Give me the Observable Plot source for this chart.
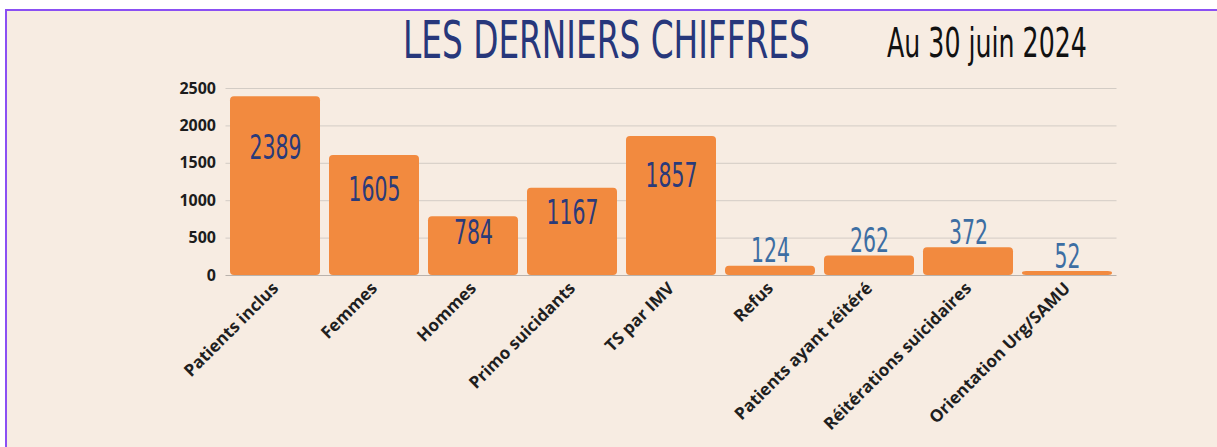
<!DOCTYPE html>
<html>
<head>
<meta charset="utf-8">
<script src="https://cdn.jsdelivr.net/npm/d3@7"></script>
<script src="https://cdn.jsdelivr.net/npm/@observablehq/plot@0.6"></script>
<style>
  html, body { margin: 0; padding: 0; background: #ffffff; width: 1217px; height: 447px; overflow: hidden; }
  #page { position: absolute; left: 5px; top: 9px; right: 0; bottom: 0;
          border-left: 2px solid #8b4ff3; border-top: 2px solid #8b4ff3;
          background: #F7ECE2; overflow: hidden; }
  #hdr { position: absolute; left: 0; top: 0; }
  #chart { position: absolute; left: 0; top: 59px; }
  #chart svg { background: transparent; }
</style>
</head>
<body>
<div id="page">
  <svg id="hdr" width="1210" height="59">
    <text id="t1" x="396" y="47" data-w="407"
          font-family="'DejaVu Sans Condensed','DejaVu Sans',sans-serif"
          font-size="51" fill="#27377b">LES DERNIERS CHIFFRES</text>
    <text id="t2" x="880" y="46" data-w="200"
          font-family="'DejaVu Sans Condensed','DejaVu Sans',sans-serif"
          font-size="40" fill="#111111">Au 30 juin 2024</text>
  </svg>
  <div id="chart"></div>
</div>
<script>
const categories = ["Patients inclus", "Femmes", "Hommes", "Primo suicidants", "TS par IMV",
                    "Refus", "Patients ayant réitéré", "Réitérations suicidaires", "Orientation Urg/SAMU"];
const values = [2389, 1605, 784, 1167, 1857, 124, 262, 372, 52];
const yTicks = [0, 500, 1000, 1500, 2000, 2500];

const data = categories.map((c, i) => ({category: c, value: values[i]}));
const inside = data.filter(d => d.value > 500);
const outside = data.filter(d => d.value <= 500);

const numFont = "'DejaVu Sans Condensed','DejaVu Sans',sans-serif";
const axisFont = "'Open Sans', 'Noto Sans', sans-serif";

const chart = Plot.plot({
  width: 1210,
  height: 377,
  marginTop: 18,
  marginBottom: 172,
  marginLeft: 218.5,
  marginRight: 100.5,
  style: {background: "transparent"},
  x: {domain: categories, paddingInner: 0.09, paddingOuter: 0.045, label: null},
  y: {domain: [0, 2500], label: null},
  marks: [
    Plot.gridY(yTicks.filter(t => t > 0), {stroke: "#d3ccc5", strokeOpacity: 1, strokeWidth: 1}),
    Plot.barY(data, {x: "category", y: "value", fill: "#F28A3F", rx: 4}),
    Plot.ruleY([0], {stroke: "#b9b2ac", strokeWidth: 1}),
    Plot.text(inside, {x: "category", y: d => d.value * 0.71, text: d => String(d.value),
      fill: "#2a3a7a", fontSize: 33, fontFamily: numFont, lineAnchor: "middle", className: "num"}),
    Plot.text(outside, {x: "category", y: "value", text: d => String(d.value),
      fill: "#3d6ea3", fontSize: 33, fontFamily: numFont, lineAnchor: "bottom", dy: -4, className: "num"}),
    Plot.axisY({ticks: yTicks, tickFormat: d => String(d), tickSize: 0, tickPadding: 10, label: null,
      fontSize: 16, fontWeight: 700, fontFamily: axisFont, fill: "#1c1c1c"}),
    Plot.axisX({tickSize: 0, tickPadding: 10, tickRotate: -45, label: null,
      fontSize: 17, fontWeight: 700, fontFamily: axisFont, fill: "#1f1f1f"})
  ]
});
document.getElementById("chart").appendChild(chart);

// header: horizontally condense text (Oswald-like look) around its start point
function condense(el, target) {
  const w = el.getComputedTextLength();
  if (!w) return;
  const s = target / w;
  const x = +(el.getAttribute("x") || 0), y = +(el.getAttribute("y") || 0);
  el.setAttribute("x", 0);
  el.setAttribute("y", 0);
  el.setAttribute("transform", `translate(${x},${y}) scale(${s},1)`);
}
for (const el of document.querySelectorAll("#hdr text")) condense(el, +el.dataset.w);
// value labels: condensed digits via native textLength
for (const el of chart.querySelectorAll(".num text")) {
  el.setAttribute("textLength", el.textContent.length * 13);
  el.setAttribute("lengthAdjust", "spacingAndGlyphs");
}
</script>
</body>
</html>
